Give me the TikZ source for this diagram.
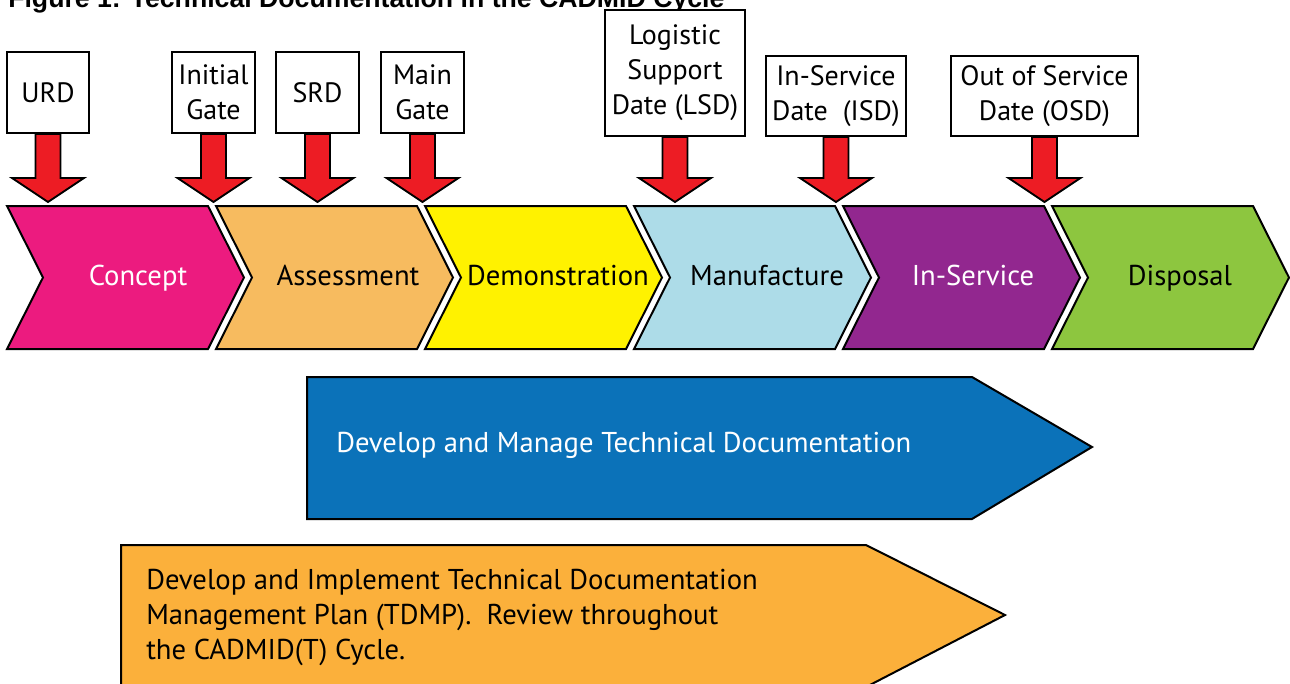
\documentclass[tikz,border=0pt]{standalone}
\usepackage{fontspec}
\setmainfont{PT Sans}
\newfontfamily\titlefont{Liberation Sans}
\usetikzlibrary{calc}
\newlength{\pxu}\setlength{\pxu}{0.75pt}
\definecolor{cconcept}{RGB}{236,27,127}
\definecolor{cassess}{RGB}{247,187,95}
\definecolor{cdemo}{RGB}{255,242,0}
\definecolor{cmanuf}{RGB}{173,220,232}
\definecolor{cinserv}{RGB}{146,39,143}
\definecolor{cdispo}{RGB}{141,198,63}
\definecolor{cblue}{RGB}{11,114,185}
\definecolor{corange}{RGB}{251,176,59}
\definecolor{cred}{RGB}{237,28,36}
\tikzset{
  tbox/.style={draw=black, line width=1.5pt, fill=white, inner sep=0pt, align=center,
    font=\fontsize{21}{26.25}\selectfont},
  chevline/.style={draw=black, line width=1.5pt, line join=miter},
  chevtext/.style={inner sep=0pt, anchor=base, font=\fontsize{21.5}{26}\selectfont},
  redarrow/.style={draw=black, fill=cred, line width=1.4pt, line join=miter},
  bigarrow/.style={draw=black, line width=1.5pt, line join=miter},
  bigtext/.style={inner sep=0pt, align=left, font=\fontsize{21.5}{26.25}\selectfont},
}
\newcommand{\chevronshape}[2]{%
  \draw[chevline, fill=#2] (#1,206) -- ++(201,0) -- ++(36,71.5) -- ++(-36,71.5)
    -- ++(-201,0) -- ++(36,-71.5) -- cycle;}
\newcommand{\gatearrow}[1]{%
  \draw[redarrow] let \p1=(#1.south) in
    (\x1-12.5\pxu,\y1) -- (\x1+12.5\pxu,\y1) -- (\x1+12.5\pxu,-178\pxu)
    -- (\x1+36\pxu,-178\pxu) -- (\x1,-202\pxu) -- (\x1-36\pxu,-178\pxu)
    -- (\x1-12.5\pxu,-178\pxu) -- cycle;}
\begin{document}
\begin{tikzpicture}[x=0.75pt,y=-0.75pt]
\useasboundingbox (0,0) rectangle (1290,683);
\clip (0,0) rectangle (1290,683);
\fill[white] (0,0) rectangle (1290,683);

% title (cut at top, as in the reference)
\node[anchor=base west, inner sep=0pt, font=\titlefont\bfseries\fontsize{20}{24}\selectfont] (title) at (8,7)
  {Figure 1: Technical Documentation in the CADMID Cycle};

% phase chevrons
\chevronshape{7}{cconcept}
\chevronshape{216}{cassess}
\chevronshape{425}{cdemo}
\chevronshape{634}{cmanuf}
\chevronshape{843}{cinserv}
\chevronshape{1052}{cdispo}
\node[chevtext, text=white] (concept) at (138,285) {Concept};
\node[chevtext, text=black] (assess) at (348,285) {Assessment};
\node[chevtext, text=black] (demo) at (558,285) {Demonstration};
\node[chevtext, text=black] (manuf) at (767,285) {Manufacture};
\node[chevtext, text=white] (inserv) at (973,285) {In-Service};
\node[chevtext, text=black] (dispo) at (1180,285) {Disposal};

% gate boxes
\node[tbox, minimum width=82\pxu, minimum height=81\pxu] (urd) at (48,92.5) {URD};
\node[tbox, minimum width=83\pxu, minimum height=81\pxu] (ig) at (213.5,92.5) {Initial\\Gate};
\node[tbox, minimum width=83\pxu, minimum height=81\pxu] (srd) at (317.5,92.5) {SRD};
\node[tbox, minimum width=83\pxu, minimum height=81\pxu] (mg) at (422.5,92.5) {Main\\Gate};
\node[tbox, minimum width=140\pxu, minimum height=126\pxu] (lsd) at (675,73) {Logistic\\Support\\Date (LSD)};
\node[tbox, minimum width=140\pxu, minimum height=80\pxu] (isd) at (836,96) {In-Service\\Date~~(ISD)};
\node[tbox, minimum width=187\pxu, minimum height=80\pxu] (osd) at (1044.5,96) {Out of Service\\Date (OSD)};

% red arrows
\gatearrow{urd}
\gatearrow{ig}
\gatearrow{srd}
\gatearrow{mg}
\gatearrow{lsd}
\gatearrow{isd}
\gatearrow{osd}

% blue arrow
\draw[bigarrow, fill=cblue] (307,377) -- (972,377) -- (1092,447) -- (972,519) -- (307,519) -- cycle;
\node[bigtext, text=white, anchor=west] (dmtd) at (336,445) {Develop and Manage Technical Documentation};

% orange arrow
\draw[bigarrow, fill=corange] (121,545) -- (866,545) -- (1005,615) -- (866,687) -- (121,687) -- cycle;
\node[bigtext, text=black, anchor=west] (tdmp) at (146,617)
  {Develop and Implement Technical Documentation\\Management Plan (TDMP).~~Review throughout\\the CADMID(T) Cycle.};
\end{tikzpicture}
\end{document}
